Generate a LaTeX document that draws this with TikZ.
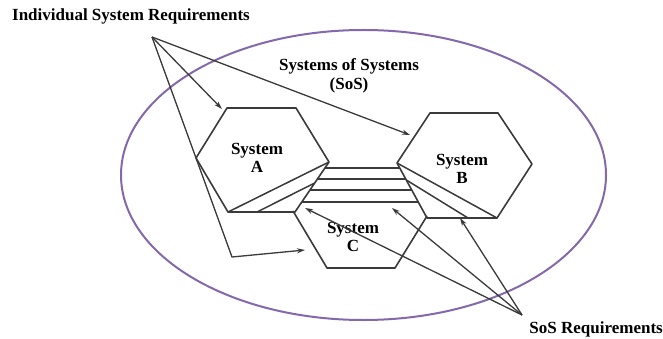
\documentclass[tikz,border=0pt]{standalone}
\usepackage{fontspec}
\setmainfont{Liberation Serif}
\usetikzlibrary{arrows.meta}
\definecolor{ink}{RGB}{58,58,58}
\definecolor{sospurple}{RGB}{132,104,172}
\tikzset{
  hexline/.style={draw=ink, line width=1.6pt, line join=round},
  ifline/.style={draw=ink, line width=1.5pt},
  reqarrow/.style={draw=ink, line width=1.3pt, -{Stealth[length=8pt,width=5pt]}},
  lbl/.style={font=\fontsize{17}{18.5}\selectfont\bfseries, text=black, inner sep=0pt, align=center},
}
\begin{document}
\begin{tikzpicture}[x=1pt,y=-1pt]
\useasboundingbox (0,0) rectangle (663,339);
% SoS ellipse
\draw[sospurple, line width=2pt] (363.5,175) ellipse [x radius=242.5, y radius=145];

% Hexagon A
\coordinate (A1) at (227,108); \coordinate (A2) at (296,108); \coordinate (A3) at (329,162);
\coordinate (A4) at (295,212); \coordinate (A5) at (228,212); \coordinate (A6) at (196,158);
\draw[hexline] (A1) -- (A2) -- (A3) -- (A4) -- (A5) -- (A6) -- cycle;
% Hexagon B
\coordinate (B1) at (430,113); \coordinate (B2) at (498,113); \coordinate (B3) at (532,164);
\coordinate (B4) at (497,218); \coordinate (B5) at (427,218); \coordinate (B6) at (397,163);
\draw[hexline] (B1) -- (B2) -- (B3) -- (B4) -- (B5) -- (B6) -- cycle;
% Hexagon C (lower part)
\coordinate (C1) at (293,211); \coordinate (C2) at (327,268); \coordinate (C3) at (395,268); \coordinate (C4) at (427,216);
\draw[hexline] (C1) -- (C2) -- (C3) -- (C4);

% interface lines
\draw[ifline] (325,168) -- (399.5,168);
\draw[ifline] (317.4,179) -- (405.7,179);
\draw[ifline] (310,190) -- (411.7,190);
\draw[ifline] (301.8,202) -- (418.3,202);
% diagonals in A and B
\draw[ifline] (A5) -- (A3);
\draw[ifline] (257,212) -- (314.7,183);
\draw[ifline] (B6) -- (B4);
\draw[ifline] (406.3,180) -- (468,218);

% labels
\node[lbl] (indiv) at (131,16) {Individual System Requirements};
\node[lbl] (sos) at (349,76) {Systems of Systems\\(SoS)};
\node[lbl] (sysA) at (257,158) {System\\A};
\node[lbl] (sysB) at (462,169) {System\\B};
\node[lbl] (sysC) at (353,237) {System\\C};
\node[lbl, anchor=east] (sosreq) at (663,329) {SoS Requirements};

% individual requirement arrows
\coordinate (ia) at (152,37);
\coordinate (tA) at (222,109);
\coordinate (tB) at (410,135);
\coordinate (bend) at (232,257);
\coordinate (tC) at (305,250);
\draw[reqarrow] (ia) -- (tA);
\draw[reqarrow] (ia) -- (tB);
\draw[reqarrow] (ia) -- (bend) -- (tC);

% SoS requirement arrows
\coordinate (sa) at (522,315);
\coordinate (sA) at (305,208);
\coordinate (sC) at (392,208);
\coordinate (sB) at (460,218);
\draw[reqarrow] (sa) -- (sA);
\draw[reqarrow] (sa) -- (sC);
\draw[reqarrow] (sa) -- (sB);
\end{tikzpicture}
\end{document}
